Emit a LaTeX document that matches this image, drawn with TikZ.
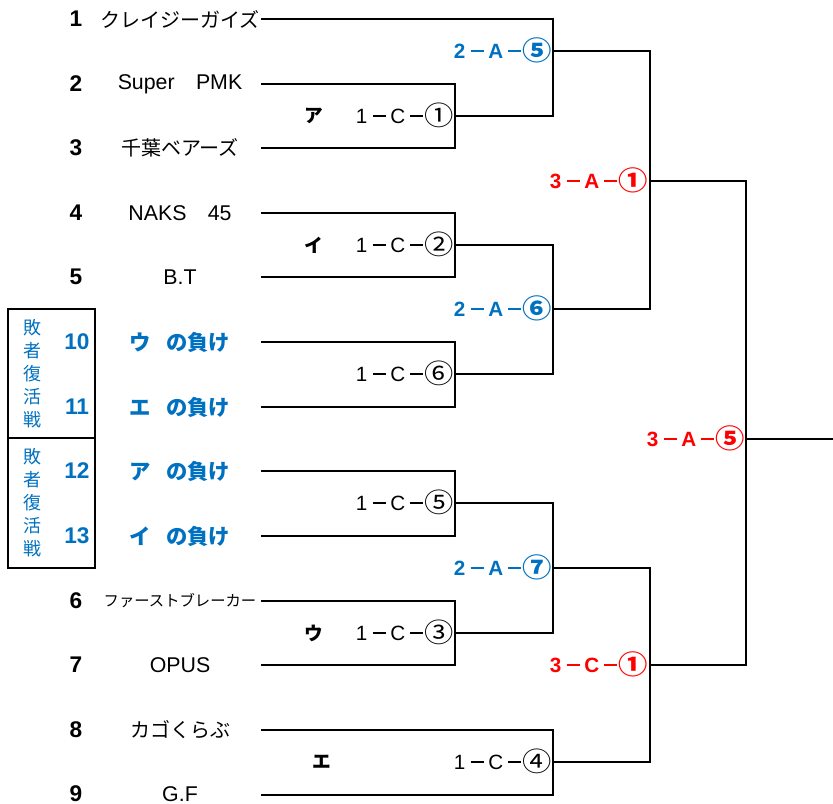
\documentclass[tikz,border=0pt]{standalone}
\usepackage{fontspec}
\setmainfont{Liberation Sans}
\newfontfamily\jp{Noto Sans CJK JP}
\definecolor{blu}{HTML}{0070C0}
\definecolor{rd}{HTML}{FF0000}
% #1 digit, #2 letter, #3 circled number, #4 dash thickness
\newcommand\mlabx[4]{%
  \makebox[12pt]{\rmfamily\fontsize{15.5}{15.5}\selectfont #1}%
  \makebox[14.25pt]{\rule[\dimexpr5.6pt-#4/2\relax]{10pt}{#4}}%
  \makebox[13.5pt]{\rmfamily\fontsize{15.5}{15.5}\selectfont #2}%
  \makebox[15pt]{\rule[\dimexpr5.6pt-#4/2\relax]{10pt}{#4}}%
  \makebox[18pt]{\raisebox{-0.09em}{\scalebox{1.1}[1]{\jp\fontsize{20}{20}\selectfont #3}}}}
\newcommand\mlab[3]{\mlabx{#1}{#2}{#3}{1pt}}
\newcommand\mlabb[3]{\mlabx{#1}{#2}{#3}{1.7pt}}
\tikzset{
  num/.style={inner sep=0pt, font=\fontsize{17}{17}\selectfont\bfseries},
  bnum/.style={num, text=blu},
  team/.style={inner sep=0pt, font=\fontsize{15}{15}\selectfont\jp},
  teamsm/.style={inner sep=0pt, font=\fontsize{11.5}{11.5}\selectfont\jp},
  latin/.style={inner sep=0pt, font=\fontsize{16}{16}\selectfont},
  loser/.style={inner sep=0pt, text=blu, font=\fontsize{16}{16}\selectfont\jp\bfseries},
  lab/.style={inner sep=0pt, anchor=east, text height=11.2pt, text depth=0pt, font=\fontsize{14}{14}\selectfont},
  blab/.style={lab, text=blu, font=\fontsize{14}{14}\selectfont\bfseries},
  rlab/.style={lab, text=rd, font=\fontsize{14}{14}\selectfont\bfseries},
  kana/.style={inner sep=0pt, font=\fontsize{14}{14}\selectfont\jp\bfseries},
  vert/.style={inner sep=0pt, text=blu, align=center, font=\fontsize{13.5}{17.25}\selectfont\jp},
  ln/.style={line width=1.1pt, line cap=rect}
}
\begin{document}
\begin{tikzpicture}[x=0.75pt,y=-0.75pt]
\useasboundingbox (0,0) rectangle (833,804);

% numbers
\node[num] (n1) at (76,19) {1};
\node[num] (n2) at (76,84) {2};
\node[num] (n3) at (76,148) {3};
\node[num] (n4) at (76,213) {4};
\node[num] (n5) at (76,277) {5};
\node[bnum] (n10) at (77,342) {10};
\node[bnum] (n11) at (77,407) {11};
\node[bnum] (n12) at (77,471) {12};
\node[bnum] (n13) at (77,536) {13};
\node[num] (n6) at (76,601) {6};
\node[num] (n7) at (76,665) {7};
\node[num] (n8) at (76,730) {8};
\node[num] (n9) at (76,794) {9};

% team names
\node[team] (t1) at (180,19) {クレイジーガイズ};
\node[latin] (t2) at (180,84) {Super\hspace{1em}PMK};
\node[team] (t3) at (180,148) {千葉ベアーズ};
\node[latin] (t4) at (180,213) {NAKS\hspace{1em}45};
\node[latin] (t5) at (180,277) {B.T};
\node[loser] (t10) at (180,342) {ウ\hspace{0.7em}の負け};
\node[loser] (t11) at (180,407) {エ\hspace{0.7em}の負け};
\node[loser] (t12) at (180,471) {ア\hspace{0.7em}の負け};
\node[loser] (t13) at (180,536) {イ\hspace{0.7em}の負け};
\node[teamsm] (t6) at (180,601) {ファーストブレーカー};
\node[latin] (t7) at (180,665) {OPUS};
\node[team] (t8) at (180,730) {カゴくらぶ};
\node[latin] (t9) at (180,794) {G.F};

% losers' bracket boxes
\draw[ln] (8,309) rectangle (95,568);
\draw[ln] (8,438) -- (95,438);
\node[vert] (v1) at (32,374) {敗\\者\\復\\活\\戦};
\node[vert] (v2) at (32,503) {敗\\者\\復\\活\\戦};

% line coordinates
\coordinate (s1) at (262,19);  \coordinate (e1) at (553,19);
\coordinate (s2) at (262,84);  \coordinate (e2) at (455,84);
\coordinate (s3) at (262,148); \coordinate (e3) at (455,148);
\coordinate (s4) at (262,213); \coordinate (e4) at (455,213);
\coordinate (s5) at (262,277); \coordinate (e5) at (455,277);
\coordinate (s10) at (262,342); \coordinate (e10) at (455,342);
\coordinate (s11) at (262,407); \coordinate (e11) at (455,407);
\coordinate (s12) at (262,471); \coordinate (e12) at (455,471);
\coordinate (s13) at (262,536); \coordinate (e13) at (455,536);
\coordinate (s6) at (262,601); \coordinate (e6) at (455,601);
\coordinate (s7) at (262,665); \coordinate (e7) at (455,665);
\coordinate (s8) at (262,730); \coordinate (e8) at (553,730);
\coordinate (s9) at (262,795); \coordinate (e9) at (553,795);

\coordinate (oA) at (455,116); \coordinate (oA2) at (553,116);
\coordinate (oB) at (455,245); \coordinate (oB2) at (553,245);
\coordinate (oC) at (455,374); \coordinate (oC2) at (553,374);
\coordinate (oD) at (455,503); \coordinate (oD2) at (553,503);
\coordinate (oE) at (455,633); \coordinate (oE2) at (553,633);
\coordinate (oF) at (553,762); \coordinate (oF2) at (650,762);
\coordinate (oG) at (553,51);  \coordinate (oG2) at (650,51);
\coordinate (oH) at (553,309); \coordinate (oH2) at (650,309);
\coordinate (oI) at (553,568); \coordinate (oI2) at (650,568);
\coordinate (oJ) at (650,181); \coordinate (oJ2) at (746,181);
\coordinate (oK) at (650,665); \coordinate (oK2) at (746,665);
\coordinate (oL) at (746,439); \coordinate (oL2) at (833,439);

% first round
\draw[ln] (s1) -- (e1) -- (oA2);
\draw[ln] (s2) -- (e2) -- (e3) -- (s3);
\draw[ln] (oA) -- (oA2);
\draw[ln] (s4) -- (e4) -- (e5) -- (s5);
\draw[ln] (oB) -- (oB2);
\draw[ln] (s10) -- (e10) -- (e11) -- (s11);
\draw[ln] (oC) -- (oC2);
\draw[ln] (s12) -- (e12) -- (e13) -- (s13);
\draw[ln] (oD) -- (oD2);
\draw[ln] (s6) -- (e6) -- (e7) -- (s7);
\draw[ln] (oE) -- (oE2);
\draw[ln] (s8) -- (e8) -- (e9) -- (s9);
\draw[ln] (oF) -- (oF2);
% second round
\draw[ln] (oG) -- (oG2);
\draw[ln] (oB2) -- (oC2);
\draw[ln] (oH) -- (oH2);
\draw[ln] (oD2) -- (oE2);
\draw[ln] (oI) -- (oI2);
% third round
\draw[ln] (oG2) -- (oH2);
\draw[ln] (oJ) -- (oJ2);
\draw[ln] (oI2) -- (oF2);
\draw[ln] (oK) -- (oK2);
% final
\draw[ln] (oJ2) -- (oK2);
\draw[ln] (oL) -- (oL2);

% match labels
\node[lab] (lA) at (451,116) {\mlab{1}{C}{①}};
\node[lab] (lB) at (451,245) {\mlab{1}{C}{②}};
\node[lab] (lC) at (451,374) {\mlab{1}{C}{⑥}};
\node[lab] (lD) at (451,503) {\mlab{1}{C}{⑤}};
\node[lab] (lE) at (451,633) {\mlab{1}{C}{③}};
\node[lab] (lF) at (549,762) {\mlab{1}{C}{④}};
\node[blab] (lG) at (549,51) {\mlabb{2}{A}{⑤}};
\node[blab] (lH) at (549,309) {\mlabb{2}{A}{⑥}};
\node[blab] (lI) at (549,568) {\mlabb{2}{A}{⑦}};
\node[rlab] (lJ) at (645,181) {\mlabb{3}{A}{①}};
\node[rlab] (lK) at (645,665) {\mlabb{3}{C}{①}};
\node[rlab] (lL) at (742,439) {\mlabb{3}{A}{⑤}};

% katakana markers
\node[kana] (kA) at (314,116) {ア};
\node[kana] (kB) at (314,245) {イ};
\node[kana] (kE) at (314,633) {ウ};
\node[kana] (kF) at (322,762) {エ};
\end{tikzpicture}
\end{document}
